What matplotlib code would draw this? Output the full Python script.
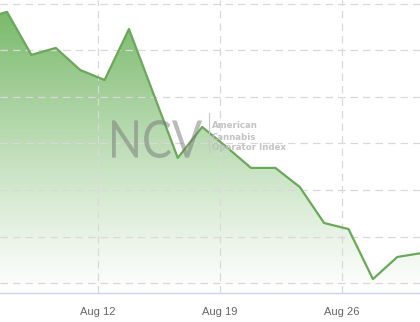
import numpy as np
import matplotlib
matplotlib.use("Agg")
import matplotlib.pyplot as plt
from matplotlib.patches import Polygon, PathPatch
from matplotlib.textpath import TextPath
from matplotlib.font_manager import FontProperties
from matplotlib.transforms import Affine2D, IdentityTransform

# Trading days (ordinal axis, weekends skipped), Aug 5 .. Aug 29
dates = ["Aug 5", "Aug 6", "Aug 7", "Aug 8", "Aug 9", "Aug 12", "Aug 13", "Aug 14",
         "Aug 15", "Aug 16", "Aug 19", "Aug 20", "Aug 21", "Aug 22", "Aug 23",
         "Aug 26", "Aug 27", "Aug 28", "Aug 29"]
values = [51.35, 51.66, 49.81, 50.11, 49.16, 48.73, 50.92, 48.15, 45.38, 46.71,
          45.85, 44.95, 44.95, 44.13, 42.58, 42.32, 40.17, 41.12, 41.29]
tick_labels = ["Aug 12", "Aug 19", "Aug 26"]
grid_values = [40, 42, 44, 46, 48, 50, 52]

x = np.arange(len(values)) - 1  # index 0 = Aug 6
y = np.array(values)

fig = plt.figure(figsize=(4.2, 3.22), dpi=100)
ax = fig.add_axes([0, 0.09, 1, 0.91])
x0, x1 = -0.287, 16.93
y0, y1 = 39.57, 52.17
ax.set_xlim(x0, x1)
ax.set_ylim(y0, y1)

# gradient fill under the line
grad = np.linspace(1, 0, 256).reshape(-1, 1)
top = np.array([0.42, 0.70, 0.36])
img = np.ones((256, 1, 4))
img[..., :3] = top
img[..., 3] = grad ** 1.1 * 0.95
im = ax.imshow(img, extent=[x0 - 2, x1 + 2, y0, y1], aspect="auto", zorder=1,
               origin="upper")
poly = Polygon(np.column_stack([np.r_[x[0], x, x[-1]], np.r_[y0, y, y0]]),
               closed=True, transform=ax.transData, facecolor="none", edgecolor="none")
ax.add_patch(poly)
im.set_clip_path(poly)
ax.plot(x, y, color="#6aa85a", lw=1.6, zorder=3, solid_joinstyle="round")

# grid
for g in grid_values:
    ax.axhline(g, color="#d9d9d9", lw=0.9, ls=(0, (6, 4)), zorder=2)
tick_pos = [i * 5 + 3.73 for i in range(len(tick_labels))]
for t in tick_pos:
    ax.axvline(t, color="#d9d9d9", lw=0.9, ls=(0, (6, 4)), zorder=2)

ax.set_xticks(tick_pos)
ax.set_xticklabels(tick_labels, color="#666666", fontsize=8, family="Liberation Sans")
ax.tick_params(axis="x", length=0, pad=10)
ax.set_yticks([])
for s in ["top", "left", "right"]:
    ax.spines[s].set_visible(False)
ax.spines["bottom"].set_color("#ccd6eb")
ax.spines["bottom"].set_linewidth(1)

# watermark "NCV", squeezed to the logo's box (pixels)
tp = TextPath((0, 0), "NCV", size=50, prop=FontProperties(family="Lato"))
bb = tp.get_extents()
H = 322
tr = (Affine2D().translate(-bb.x0, -bb.y0)
      .scale(90 / bb.width, 38 / bb.height)
      .translate(112, H - 158))
fig.add_artist(PathPatch(tr.transform_path(tp), transform=IdentityTransform(),
                         facecolor="#777777", edgecolor="none", alpha=0.5, zorder=5))
fig.add_artist(plt.Line2D([209 / 420, 209 / 420], [1 - 113 / H, 1 - 152 / H],
                          color="#c8c8c8", lw=0.8))
for i, line in enumerate(["American", "Cannabis", "Operator Index"]):
    fig.text(212 / 420, 1 - (126 + 11 * i) / H, line, fontsize=6.2, color="#bdbdbd",
             ha="left", va="center", fontweight="bold", alpha=0.9)

fig.savefig("out.png", dpi=100)
